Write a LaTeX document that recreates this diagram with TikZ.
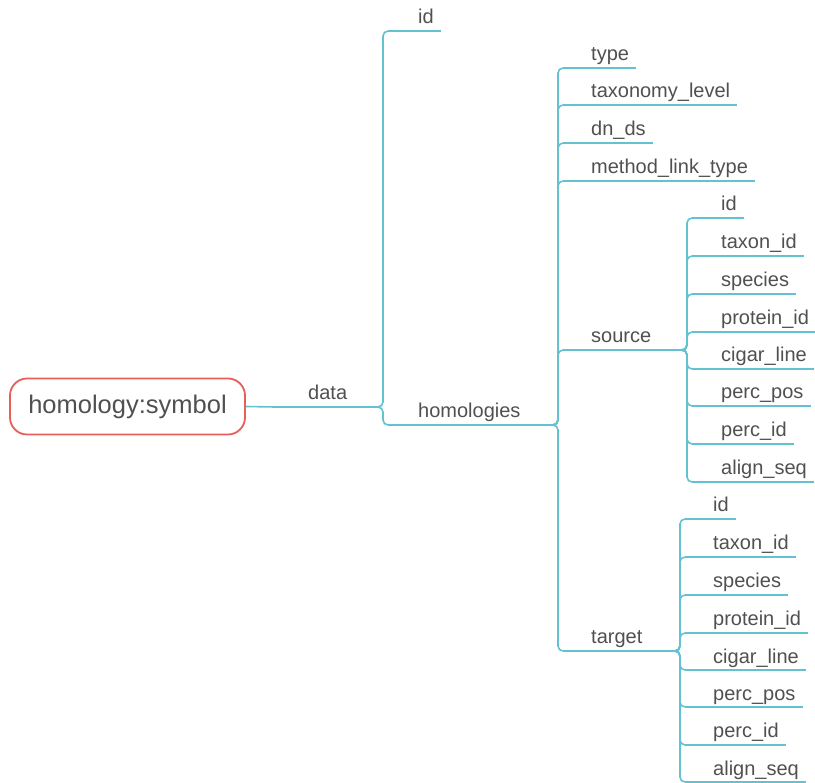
\documentclass[tikz,border=0pt]{standalone}
\usepackage{fontspec}
\setmainfont{Liberation Sans}
\usetikzlibrary{calc}
\definecolor{lncol}{RGB}{98,194,210}
\definecolor{rootcol}{RGB}{232,94,88}
\definecolor{txtcol}{RGB}{80,80,80}
\tikzset{
  lbl/.style={anchor=base west, inner sep=0pt, text=txtcol, font=\fontsize{20}{24}\selectfont},
  ln/.style={draw=lncol, line width=1.6pt},
  conn/.style={draw=lncol, line width=1.6pt, rounded corners=5pt},
  rootbox/.style={draw=rootcol, line width=1.8pt, rounded corners=17pt, minimum width=235pt, minimum height=56pt, text=txtcol, font=\fontsize{25.5}{30}\selectfont, inner sep=0pt}
}
% leaf: name, underline start x, text x, underline y, text
\newcommand\mmleaf[5]{%
  \node[lbl] (#1) at (#3,#4-7) {#5};
  \coordinate (#1-s) at (#2,#4);
  \path (#1-s -| #1.east) ++(7,0) coordinate (#1-e);
  \draw[ln] (#1-s) -- (#1-e);}
% parent: name, underline start x, text x, underline y, underline end x, text
\newcommand\mmpar[6]{%
  \node[lbl] (#1) at (#3,#4-7) {#6};
  \coordinate (#1-s) at (#2,#4);
  \coordinate (#1-e) at (#5,#4);
  \draw[ln] (#1-s) -- (#1-e);}
\newcommand\mmconn[2]{\draw[conn] (#1-e) -- ++(5,0) |- (#2-s);}
\begin{document}
\begin{tikzpicture}[x=1pt,y=-1pt]
\useasboundingbox (0,0) rectangle (815,783);
\node[rootbox] (root) at (127.5,406.5) {homology:symbol};
% level 1
\mmpar{data}{275}{308}{407}{378}{data}
\draw[ln] (root.east) -- (data-s);
% level 2
\mmleaf{id}{388}{418}{31}{id}
\mmpar{hom}{388}{418}{425}{553}{homologies}
\mmconn{data}{id}
\mmconn{data}{hom}
% level 3
\mmleaf{type}{563}{591}{68}{type}
\mmleaf{tax}{563}{591}{105}{taxonomy\_level}
\mmleaf{dnds}{563}{591}{143}{dn\_ds}
\mmleaf{mlt}{563}{591}{181}{method\_link\_type}
\mmpar{src}{563}{591}{350}{682}{source}
\mmpar{tgt}{563}{591}{651}{675}{target}
\foreach \c in {type,tax,dnds,mlt,src,tgt} {\mmconn{hom}{\c}}
% source children
\mmleaf{sid}{692}{721}{218}{id}
\mmleaf{stax}{692}{721}{256}{taxon\_id}
\mmleaf{ssp}{692}{721}{294}{species}
\mmleaf{sprot}{692}{721}{332}{protein\_id}
\mmleaf{scig}{692}{721}{369}{cigar\_line}
\mmleaf{spos}{692}{721}{406}{perc\_pos}
\mmleaf{spid}{692}{721}{444}{perc\_id}
\mmleaf{saln}{692}{721}{482}{align\_seq}
\foreach \c in {sid,stax,ssp,sprot,scig,spos,spid,saln} {\mmconn{src}{\c}}
% target children
\mmleaf{tid}{685}{713}{519}{id}
\mmleaf{ttax}{685}{713}{557}{taxon\_id}
\mmleaf{tsp}{685}{713}{595}{species}
\mmleaf{tprot}{685}{713}{633}{protein\_id}
\mmleaf{tcig}{685}{713}{670}{cigar\_line}
\mmleaf{tpos}{685}{713}{707}{perc\_pos}
\mmleaf{tpid}{685}{713}{745}{perc\_id}
\mmleaf{taln}{685}{713}{782}{align\_seq}
\foreach \c in {tid,ttax,tsp,tprot,tcig,tpos,tpid,taln} {\mmconn{tgt}{\c}}
\end{tikzpicture}
\end{document}
